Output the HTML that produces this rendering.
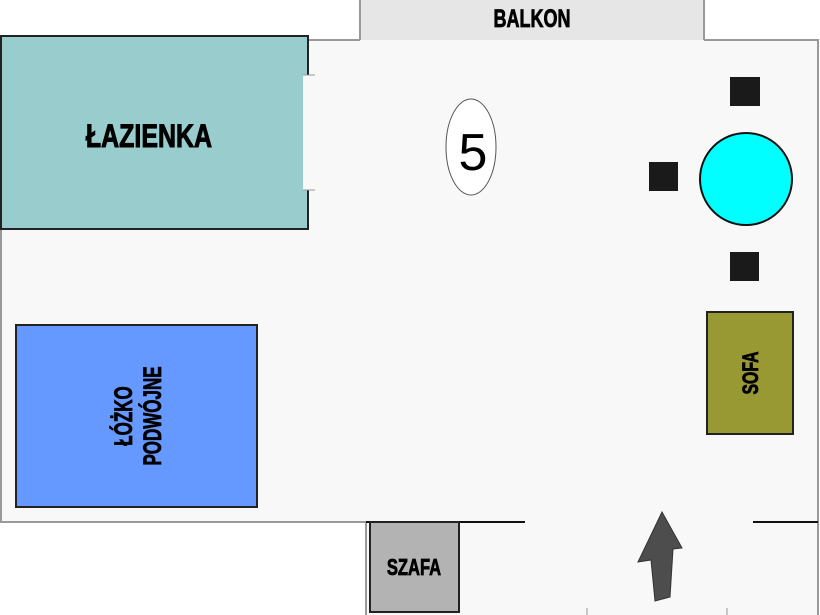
<!DOCTYPE html>
<html><head><meta charset="utf-8"><style>body{margin:0;background:#fff}svg{display:block}</style></head><body>
<svg width="820" height="615" viewBox="0 0 820 615" xmlns="http://www.w3.org/2000/svg" font-family="Liberation Sans Narrow, Liberation Sans, sans-serif" font-weight="bold">
<rect width="820" height="615" fill="#fff"/>
<rect x="360" y="0" width="344" height="40" fill="#e6e6e6"/>
<line x1="360" y1="0" x2="360" y2="44" stroke="#999" stroke-width="2"/>
<line x1="704" y1="0" x2="704" y2="44" stroke="#999" stroke-width="2"/>
<text x="532" y="27" font-size="25" text-anchor="middle" stroke="#000" stroke-width="0.8" transform="translate(532 0) scale(0.72 1) translate(-532 0)">BALKON</text>
<path d="M1,40 H818 V615 H366 V522 H1 Z" fill="#f8f8f8"/>
<path d="M360,40 H1 V522 H366 V615" fill="none" stroke="#999" stroke-width="2"/>
<path d="M704,40 H818 V615" fill="none" stroke="#999" stroke-width="2"/>
<line x1="366" y1="522" x2="525" y2="522" stroke="#111" stroke-width="2"/>
<line x1="753" y1="522" x2="818" y2="522" stroke="#111" stroke-width="2"/>
<line x1="587" y1="608" x2="587" y2="615" stroke="#999"/>
<line x1="727" y1="608" x2="727" y2="615" stroke="#999"/>
<rect x="1" y="36" width="307" height="193" fill="#99cccc" stroke="#222" stroke-width="2"/>
<rect x="303" y="75" width="13" height="115" fill="#f8f8f8"/>
<line x1="303" y1="75" x2="315" y2="75" stroke="#999"/>
<line x1="303" y1="190" x2="315" y2="190" stroke="#999"/>
<text x="149" y="147" font-size="32" text-anchor="middle" stroke="#000" stroke-width="1" transform="translate(149 0) scale(0.78 1) translate(-149 0)">ŁAZIENKA</text>
<ellipse cx="471" cy="147" rx="25" ry="48" fill="#fff" stroke="#555" stroke-width="1"/>
<text x="473" y="170" font-size="52" font-weight="normal" font-family="Liberation Sans, sans-serif" text-anchor="middle">5</text>
<rect x="730" y="77" width="30" height="29" fill="#1a1a1a"/>
<rect x="649" y="162" width="29" height="29" fill="#1a1a1a"/>
<rect x="730" y="252" width="29" height="29" fill="#1a1a1a"/>
<circle cx="746" cy="179" r="46" fill="#00ffff" stroke="#111" stroke-width="2"/>
<rect x="707" y="312" width="86" height="122" fill="#999933" stroke="#222" stroke-width="2"/>
<text font-size="22" text-anchor="middle" stroke="#000" stroke-width="0.8" transform="translate(758 373) rotate(-90) scale(0.72 1)">SOFA</text>
<rect x="16" y="325" width="241" height="182" fill="#6699ff" stroke="#222" stroke-width="2"/>
<text font-size="25" text-anchor="middle" stroke="#000" stroke-width="0.8" transform="translate(132 416) rotate(-90) scale(0.68 1)">ŁÓŻKO</text>
<text font-size="25" text-anchor="middle" stroke="#000" stroke-width="0.8" transform="translate(161 416) rotate(-90) scale(0.68 1)">PODWÓJNE</text>
<rect x="370" y="522" width="89" height="90" fill="#b3b3b3" stroke="#222" stroke-width="2"/>
<text x="414" y="575" font-size="23" text-anchor="middle" stroke="#000" stroke-width="0.8" transform="translate(414 0) scale(0.72 1) translate(-414 0)">SZAFA</text>
<polygon points="662,512 682,548 673,549 670,597 655,601 651,560 638,562" fill="#4d4d4d" stroke="#333" stroke-width="1"/>
</svg>
</body></html>
